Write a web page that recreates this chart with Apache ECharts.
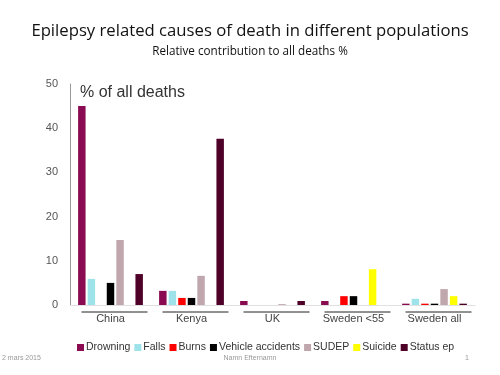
<!DOCTYPE html>
<html>
<head>
<meta charset="utf-8">
<script src="https://cdn.jsdelivr.net/npm/echarts@6/dist/echarts.min.js"></script>
<style>
  html, body { margin: 0; padding: 0; background: #fff; }
  #chart { width: 500px; height: 375px; }
</style>
</head>
<body>
<div id="chart"></div>
<script>
// populations
var populations = ['China', 'Kenya', 'UK', 'Sweden <55', 'Sweden all'];

// % of all deaths per cause, one value per population
var drowning = [45, 3.2, 0.9, 0.9, 0.3];
var falls = [5.9, 3.2, 0, 0, 1.4];
var burns = [0, 1.6, 0, 2.0, 0.3];
var vehicle = [5.0, 1.6, 0, 2.0, 0.3];
var sudep = [14.7, 6.6, 0.2, 0, 3.6];
var suicide = [0, 0, 0, 8.1, 2.0];
var statusEp = [7.0, 37.6, 0.9, 0, 0.3];

var causeNames = ['Drowning', 'Falls', 'Burns', 'Vehicle accidents', 'SUDEP', 'Suicide', 'Status ep'];
var causeData = [drowning, falls, burns, vehicle, sudep, suicide, statusEp];
var causeColors = ['#8a0b52', '#9ee3ea', '#ff0000', '#000000', '#c0a7ae', '#ffff00', '#4e0028'];

var chart = echarts.init(document.getElementById('chart'));

var series = causeNames.map(function (name, i) {
    return {
        name: name,
        type: 'bar',
        data: causeData[i],
        barGap: '28%',
        barCategoryGap: '20%',
        itemStyle: { color: causeColors[i] }
    };
});

var option = {
    animation: false,
    textStyle: { fontFamily: 'Liberation Sans' },
    title: [
        {
            text: 'Epilepsy related causes of death in different populations',
            left: 'center',
            top: 18,
            textStyle: { fontFamily: 'Open Sans', fontSize: 16.7, fontWeight: 'normal', color: '#111' }
        },
        {
            text: 'Relative contribution to all deaths %',
            left: 'center',
            top: 41,
            textStyle: { fontFamily: 'Open Sans', fontSize: 11.7, fontWeight: 'normal', color: '#111' }
        },
        {
            text: '% of all deaths',
            left: 75,
            top: 80,
            textStyle: { fontFamily: 'Liberation Sans', fontSize: 16, fontWeight: 'normal', color: '#333' }
        }
    ],
    legend: {
        data: causeNames,
        top: 337,
        left: 72,
        itemWidth: 7,
        itemHeight: 7,
        itemGap: 4,
        icon: 'rect',
        textStyle: { fontSize: 10.5, color: '#333', padding: [0, 0, 0, -3] }
    },
    grid: { left: 70, right: 25, top: 84, bottom: 70 },
    xAxis: {
        type: 'category',
        data: populations,
        axisLine: { lineStyle: { color: '#e0e0e0' } },
        axisTick: { show: false },
        axisLabel: { fontSize: 11, color: '#444', margin: 8 }
    },
    yAxis: {
        type: 'value',
        min: 0,
        max: 50,
        interval: 10,
        splitLine: { show: false },
        axisLine: { show: true, lineStyle: { color: '#999' } },
        axisTick: { show: false },
        axisLabel: { fontSize: 11, color: '#555', margin: 12 }
    },
    series: series
};

chart.setOption(option);

// underline under each population label, placed from the category axis
var lines = [];
var footY = chart.convertToPixel({ yAxisIndex: 0 }, 0) + 7;
populations.forEach(function (p) {
    var cx = chart.convertToPixel({ xAxisIndex: 0 }, p) + 4;
    lines.push({
        type: 'line',
        shape: { x1: cx - 33, y1: footY, x2: cx + 33, y2: footY },
        style: { stroke: '#222', lineWidth: 1 }
    });
});
lines.push(
    { type: 'text', left: 2, top: 355, style: { text: '2 mars 2015', fontSize: 7, fill: '#999', fontFamily: 'Liberation Sans' } },
    { type: 'text', left: 'center', top: 355, style: { text: 'Namn Efternamn', fontSize: 7, fill: '#999', fontFamily: 'Liberation Sans' } },
    { type: 'text', left: 465, top: 355, style: { text: '1', fontSize: 7, fill: '#999', fontFamily: 'Liberation Sans' } }
);
chart.setOption({ graphic: lines });
</script>
</body>
</html>
